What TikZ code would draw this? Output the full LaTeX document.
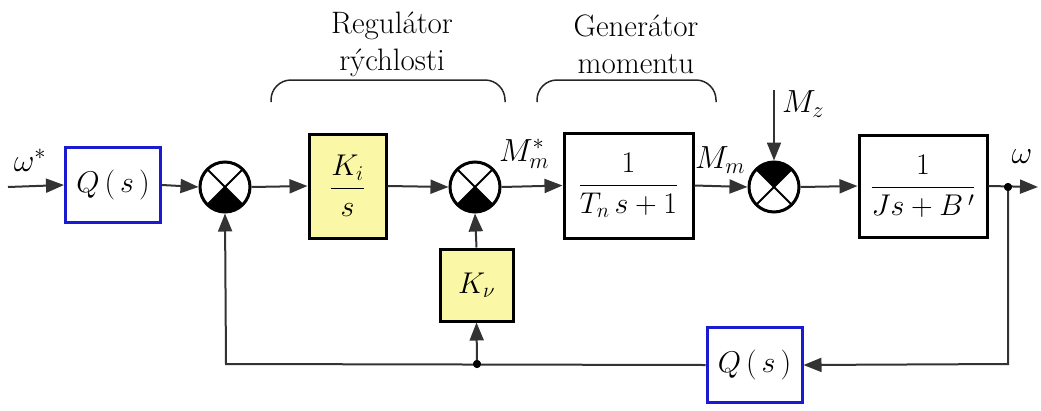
\RequirePackage{fix-cm}
\documentclass[tikz,border=0pt]{standalone}
\usetikzlibrary{arrows.meta}
\definecolor{qblue}{HTML}{1A1AD0}
\definecolor{kyel}{HTML}{FAF7A6}
\definecolor{wire}{HTML}{333333}
\tikzset{
  blk/.style={draw=black, line width=3pt, fill=white, inner sep=0pt, font=\fontsize{30}{34}\selectfont},
  qbox/.style={blk, draw=qblue, minimum width=95pt, minimum height=75pt},
  ybox/.style={blk, fill=kyel},
  sumb/.style={circle, draw=black, line width=3pt, fill=white, minimum size=50pt, inner sep=0pt,
    path picture={
      \fill[black] (path picture bounding box.center) -- ++(-40,-40) -- ++(80,0) -- cycle;
      \draw[line width=2pt] (path picture bounding box.center) ++(-30,-30) -- ++(60,60);
      \draw[line width=2pt] (path picture bounding box.center) ++(-30,30) -- ++(60,-60);
    }},
  sumt/.style={circle, draw=black, line width=3pt, fill=white, minimum size=50pt, inner sep=0pt,
    path picture={
      \fill[black] (path picture bounding box.center) -- ++(-40,40) -- ++(80,0) -- cycle;
      \draw[line width=2pt] (path picture bounding box.center) ++(-30,-30) -- ++(60,60);
      \draw[line width=2pt] (path picture bounding box.center) ++(-30,30) -- ++(60,-60);
    }},
  conn/.style={draw=wire, line width=2pt},
  arr/.style={conn, -{Triangle[length=18pt,width=14pt]}},
  lbl/.style={font=\fontsize{32}{36}\selectfont, inner sep=0pt},
  ttl/.style={font=\rmfamily\fontsize{31}{37}\selectfont, align=center, inner sep=0pt},
  dot/.style={circle, fill=black, minimum size=8pt, inner sep=0pt},
}
\begin{document}
\begin{tikzpicture}[x=1pt,y=1pt]
\useasboundingbox[fill=white] (0,0) rectangle (1041,-410);

% blocks
\node[qbox] (q1) at (113,-185) {$Q\,(\,s\,)$};
\node[sumb] (s1) at (225,-187) {};
\node[ybox, minimum width=77pt, minimum height=104pt] (ki) at (347.5,-186) {$\displaystyle\frac{K_i}{s}$};
\node[sumb] (s2) at (475,-187) {};
\node[ybox, minimum width=73pt, minimum height=72pt] (kv) at (476.5,-285) {$K_\nu$};
\node[blk, minimum width=129pt, minimum height=105pt] (tn) at (628.5,-185.5) {$\displaystyle\frac{1}{T_n\,s+1}$};
\node[sumt] (s3) at (774,-187) {};
\node[blk, minimum width=128pt, minimum height=102pt] (jb) at (923,-186) {$\displaystyle\frac{1}{Js+B\,'}$};
\node[qbox] (q2) at (754.5,-365) {$Q\,(\,s\,)$};

% helper coordinates
\coordinate (in) at (8,-187);
\coordinate (out) at (1038,-187);
\node[dot] (jo) at (1008,-187) {};
\node[dot] (jk) at (477,-364) {};
\coordinate (br) at (1008,-364);
\coordinate (bl) at (226,-364);
\coordinate (mz) at (774,-90);

% connectors
\draw[arr] (in) -- (q1.west);
\draw[arr] (q1.east) -- (s1.west);
\draw[arr] (s1.east) -- (ki.west);
\draw[arr] (ki.east) -- (s2.west);
\draw[arr] (s2.east) -- (tn.west);
\draw[arr] (tn.east) -- (s3.west);
\draw[arr] (s3.east) -- (jb.west);
\draw[arr] (jb.east) -- (out);
\draw[arr] (mz) -- (s3.north);
\draw[arr] (jo.center) -- (br) -- (q2.east);
\draw[arr] (q2.west) -- (bl) -- (s1.south);
\draw[arr] (jk.center) -- (kv.south);
\draw[arr] (kv.north) -- (s2.south);
\node[dot] at (jo) {};
\node[dot] at (jk) {};

% signal labels
\node[lbl] (lw) at (30,-160) {$\omega^{*}$};
\node[lbl] (lmm) at (524,-154) {$M_m^{*}$};
\node[lbl] (lm) at (720,-160) {$M_m$};
\node[lbl] (lz) at (803,-104) {$M_z$};
\node[lbl] (lo) at (1022,-157) {$\omega$};

% group titles and braces
\node[ttl] (t1) at (392,-44) {Regulátor\\rýchlosti};
\node[ttl] (t2) at (636,-44) {Generátor\\momentu};
\draw[draw=black!85, line width=1.5pt, rounded corners=20pt] (271,-102) -- (271,-80) -- (505,-80) -- (505,-102);
\draw[draw=black!85, line width=1.5pt, rounded corners=20pt] (537,-102) -- (537,-80) -- (716,-80) -- (716,-102);
\end{tikzpicture}
\end{document}
